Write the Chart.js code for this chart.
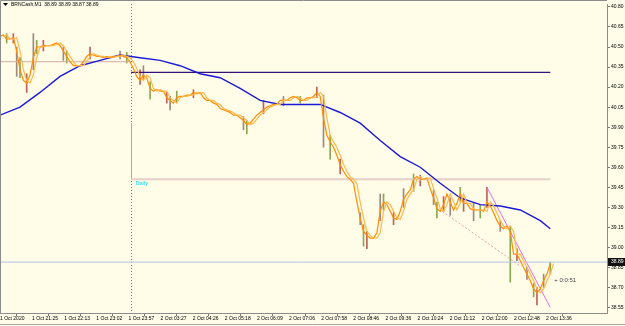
<!DOCTYPE html>
<html>
<head>
<meta charset="utf-8">
<script src="https://cdn.jsdelivr.net/npm/chart.js@4/dist/chart.umd.min.js"></script>
<style>
html, body { margin: 0; padding: 0; background: #fffce8; }
#wrap { width: 625px; height: 326px; }
</style>
</head>
<body>
<div id="wrap"><canvas id="chart" width="625" height="326"></canvas></div>
<script>
// bottom time labels, one every ~9.63 bars
const timeLabels = ['1 Oct 2020', '1 Oct 21:25', '1 Oct 22:13', '1 Oct 23:02', '1 Oct 23:57',
    '2 Oct 03:27', '2 Oct 04:26', '2 Oct 05:18', '2 Oct 06:09', '2 Oct 07:06', '2 Oct 07:58',
    '2 Oct 08:46', '2 Oct 09:36', '2 Oct 10:24', '2 Oct 11:12', '2 Oct 12:00', '2 Oct 12:48', '2 Oct 13:36'];
const priceTicks = [40.80, 40.65, 40.50, 40.35, 40.20, 40.05, 39.90, 39.75, 39.60,
    39.45, 39.30, 39.15, 39.00, 38.85, 38.70, 38.55];

// closing prices (one per bar)
const closes = [
    40.58, 40.59, 40.56, 40.56, 40.57, 40.47, 40.33, 40.25, 40.23, 40.29,
    40.42, 40.50, 40.50, 40.51, 40.51, 40.51, 40.52, 40.53, 40.51, 40.47,
    40.43, 40.39, 40.36, 40.36, 40.36, 40.39, 40.43, 40.45, 40.44, 40.43,
    40.43, 40.42, 40.43, 40.42, 40.43, 40.43, 40.44, 40.43, 40.42, 40.39,
    40.34, 40.28, 40.25, 40.29, 40.27, 40.19, 40.17, 40.18, 40.17, 40.17,
    40.12, 40.10, 40.08, 40.12, 40.13, 40.13, 40.14, 40.14, 40.16, 40.15,
    40.16, 40.12, 40.10, 40.10, 40.08, 40.07, 40.04, 40.03, 40.02, 40.01,
    39.99, 39.99, 39.97, 39.95, 39.92, 39.93, 39.96, 39.99, 40.01, 40.03,
    40.05, 40.06, 40.07, 40.07, 40.10, 40.10, 40.10, 40.12, 40.13, 40.12,
    40.10, 40.10, 40.12, 40.12, 40.13, 40.16, 40.13, 39.97, 39.84, 39.79,
    39.75, 39.69, 39.62, 39.57, 39.53, 39.51, 39.48, 39.34, 39.22, 39.12,
    39.09, 39.07, 39.07, 39.11, 39.27, 39.34, 39.32, 39.27, 39.22, 39.21,
    39.27, 39.36, 39.40, 39.43, 39.51, 39.53, 39.51, 39.51, 39.52, 39.44,
    39.37, 39.29, 39.27, 39.32, 39.40, 39.34, 39.28, 39.33, 39.40, 39.33,
    39.33, 39.29, 39.28, 39.28, 39.28, 39.27, 39.34, 39.31, 39.26, 39.20,
    39.16, 39.14, 39.16, 39.12, 38.95, 38.95, 38.90, 38.85, 38.80, 38.75,
    38.69, 38.66, 38.69, 38.75, 38.80, 38.88
];

// slow moving average (blue), sampled every 6 bars
const slowIdx = [0, 6, 12, 18, 24, 30, 36, 42, 48, 54, 60, 66, 72, 78, 84, 90, 96, 102,
    108, 114, 120, 126, 132, 138, 144, 150, 156, 162, 165];
const slowMa = [39.99, 40.05, 40.16, 40.28, 40.36, 40.40, 40.44, 40.42, 40.40, 40.36,
    40.30, 40.27, 40.19, 40.10, 40.07, 40.07, 40.07, 40.01, 39.93, 39.80, 39.68, 39.60,
    39.48, 39.37, 39.32, 39.31, 39.28, 39.20, 39.14];

// visible candle wicks
const wickIdx = [2, 4, 5, 6, 8, 10, 11, 13, 19, 20, 27, 36, 38, 42, 43, 45, 50, 51, 53, 58,
    73, 74, 79, 85, 90, 95, 97, 99, 102, 108, 109, 110, 114, 115, 118, 121, 124, 126, 130,
    131, 133, 135, 138, 139, 142, 144, 146, 150, 153, 155, 158, 160, 161, 163, 165];
const wickLow = [40.53, 40.53, 40.28, 40.27, 40.16, 40.33, 40.45, 40.47, 40.40, 40.38,
    40.41, 40.41, 40.38, 40.22, 40.26, 40.11, 40.08, 40.03, 40.09, 40.12,
    39.88, 39.85, 40.00, 40.06, 40.08, 40.12, 39.75, 39.66, 39.55, 39.17, 39.01, 38.99,
    39.20, 39.28, 39.17, 39.30, 39.42, 39.46, 39.32, 39.22, 39.27, 39.24, 39.34, 39.27,
    39.20, 39.22, 39.30, 39.12, 38.74, 38.90, 38.76, 38.63, 38.57, 38.70, 38.80];
const wickHigh = [40.60, 40.60, 40.50, 40.42, 40.30, 40.60, 40.55, 40.55, 40.50, 40.47,
    40.50, 40.47, 40.46, 40.33, 40.36, 40.24, 40.16, 40.13, 40.17, 40.18,
    39.98, 39.95, 40.10, 40.13, 40.13, 40.20, 40.14, 39.84, 39.66, 39.26, 39.17, 39.12,
    39.40, 39.40, 39.26, 39.44, 39.55, 39.54, 39.43, 39.34, 39.38, 39.37, 39.45, 39.37,
    39.33, 39.32, 39.45, 39.20, 39.16, 38.99, 38.85, 38.73, 38.70, 38.80, 38.89];

// drawn objects
const leftLevel = 40.39;
const blueLevel = 40.31;
const dailyLevel = 39.51;
const lastPrice = 38.89;
const sepBar = 39.3;
const lastBar = 165;
const trendA = [[146, 39.45], [165, 38.55]];
const trendB = [[132.6, 39.27], [156, 38.86]];

const BG = '#fffce8';
const FONT = 'Liberation Sans';

function seg(x1, y1, x2, y2) {
    return [{x: x1, y: y1}, {x: x2, y: y2}];
}
function flatLine(color, width, data, dash) {
    return {
        type: 'line', data: data, borderColor: color, borderWidth: width,
        borderDash: dash || [], pointRadius: 0, tension: 0, order: 1
    };
}

const overlay = {
    id: 'overlay',
    beforeDraw(chart) {
        const ctx = chart.ctx;
        ctx.save();
        ctx.fillStyle = BG;
        ctx.fillRect(0, 0, chart.width, chart.height);
        ctx.restore();
    },
    beforeDatasetsDraw(chart) {
        const ctx = chart.ctx;
        const xs = chart.scales.x, ys = chart.scales.y;
        const a = chart.chartArea;
        const sx = Math.round(xs.getPixelForValue(sepBar)) + 0.5;
        ctx.save();
        ctx.strokeStyle = '#7a7a7a';
        ctx.lineWidth = 1;
        ctx.setLineDash([1, 2]);
        ctx.beginPath();
        ctx.moveTo(sx, a.top);
        ctx.lineTo(sx, a.bottom);
        ctx.stroke();
        ctx.setLineDash([]);
        ctx.strokeStyle = '#b4a4a4';
        ctx.beginPath();
        ctx.moveTo(sx, ys.getPixelForValue(39.93));
        ctx.lineTo(sx, ys.getPixelForValue(dailyLevel));
        ctx.stroke();
        ctx.restore();
    },
    afterDraw(chart) {
        const ctx = chart.ctx;
        const xs = chart.scales.x, ys = chart.scales.y;
        const a = chart.chartArea;
        ctx.save();
        // frame
        ctx.strokeStyle = '#8c8c8c';
        ctx.lineWidth = 1;
        ctx.beginPath();
        ctx.moveTo(0.5, a.bottom);
        ctx.lineTo(0.5, 0.5);
        ctx.lineTo(a.right, 0.5);
        ctx.stroke();
        ctx.strokeStyle = '#a8a8a8';
        ctx.beginPath();
        ctx.moveTo(0, 324.5);
        ctx.lineTo(chart.width, 324.5);
        ctx.stroke();

        // header
        ctx.fillStyle = '#000';
        ctx.beginPath();
        ctx.moveTo(3, 3);
        ctx.lineTo(8, 3);
        ctx.lineTo(5.5, 6);
        ctx.closePath();
        ctx.fill();
        ctx.font = '5px "' + FONT + '"';
        ctx.textBaseline = 'middle';
        ctx.textAlign = 'left';
        ctx.fillText('BRNCash,M1  38.89 38.89 38.87 38.89', 11, 5);

        // Daily label
        ctx.fillStyle = '#36e0f0';
        ctx.font = 'bold 5px "' + FONT + '"';
        ctx.fillText('Daily', xs.getPixelForValue(sepBar) + 5, ys.getPixelForValue(dailyLevel) + 4);

        // bar timer
        ctx.fillStyle = '#444';
        ctx.font = '6px "' + FONT + '"';
        ctx.fillText('+ 0:0:51', xs.getPixelForValue(lastBar + 1.2), ys.getPixelForValue(38.75));

        // price box
        const py = Math.round(ys.getPixelForValue(lastPrice));
        ctx.fillStyle = '#111';
        ctx.fillRect(a.right + 1, py - 4, chart.width - a.right - 1, 8);
        ctx.fillStyle = '#fff';
        ctx.font = '5px "' + FONT + '"';
        ctx.fillText(lastPrice.toFixed(2), a.right + 4, py);
        ctx.restore();
    }
};

const datasets = [
    {
        type: 'bar',
        data: wickIdx.map((v, k) => ({x: v, y: [wickLow[k], wickHigh[k]]})),
        backgroundColor: (c) => (c.dataIndex % 3 === 0 ? '#8aa850' : (c.dataIndex % 3 === 1 ? '#c0605a' : '#a08a80')),
        barThickness: 1,
        grouped: false,
        order: 5
    },
    flatLine('#ffb84d', 1.2, closes.map((v, i) => ({x: i + 1, y: v}))),
    flatLine('#ff8c00', 1.2, closes.map((v, i) => ({x: i, y: v}))),
    flatLine('#1a1ad6', 1.4, slowIdx.map((v, k) => ({x: v, y: slowMa[k]}))),
    flatLine('#d6aaa2', 1, seg(0, leftLevel, sepBar, leftLevel)),
    flatLine('#34127c', 1.2, seg(sepBar, blueLevel, lastBar, blueLevel)),
    flatLine('#e4d0c8', 2, seg(sepBar, dailyLevel, lastBar, dailyLevel)),
    flatLine('#b0c4e8', 1, seg(0, lastPrice, 182, lastPrice)),
    flatLine('#e46ee4', 1, seg(trendA[0][0], trendA[0][1], trendA[1][0], trendA[1][1])),
    flatLine('#f0a0a0', 1, seg(trendB[0][0], trendB[0][1], trendB[1][0], trendB[1][1]), [2, 2])
];

const myChart = new Chart(document.getElementById('chart'), {
    type: 'line',
    data: {datasets: datasets},
    plugins: [overlay],
    options: {
        responsive: false,
        animation: false,
        devicePixelRatio: 1,
        layout: {padding: 0},
        plugins: {legend: {display: false}, tooltip: {enabled: false}},
        scales: {
            x: {
                type: 'linear',
                min: 0,
                max: 182,
                offset: false,
                afterBuildTicks: (axis) => {
                    axis.ticks = timeLabels.map((t, k) => ({value: k * 9.63}));
                },
                afterFit: (axis) => { axis.height = 13; },
                grid: {drawOnChartArea: false, tickLength: 3, color: '#777'},
                border: {color: '#8c8c8c'},
                ticks: {
                    autoSkip: false, maxRotation: 0, align: 'start', padding: 0,
                    color: '#000', font: {family: FONT, size: 5},
                    callback: (v, i) => timeLabels[i]
                }
            },
            y: {
                type: 'linear',
                position: 'right',
                min: 38.509,
                max: 40.822,
                afterBuildTicks: (axis) => {
                    axis.ticks = priceTicks.map((p) => ({value: p}));
                },
                afterFit: (axis) => { axis.width = 18; },
                grid: {drawOnChartArea: false, tickLength: 3, color: '#777'},
                border: {color: '#8c8c8c'},
                ticks: {
                    autoSkip: false, padding: 1,
                    color: '#000', font: {family: FONT, size: 5},
                    callback: (v) => v.toFixed(2)
                }
            }
        }
    }
});
</script>
</body>
</html>
